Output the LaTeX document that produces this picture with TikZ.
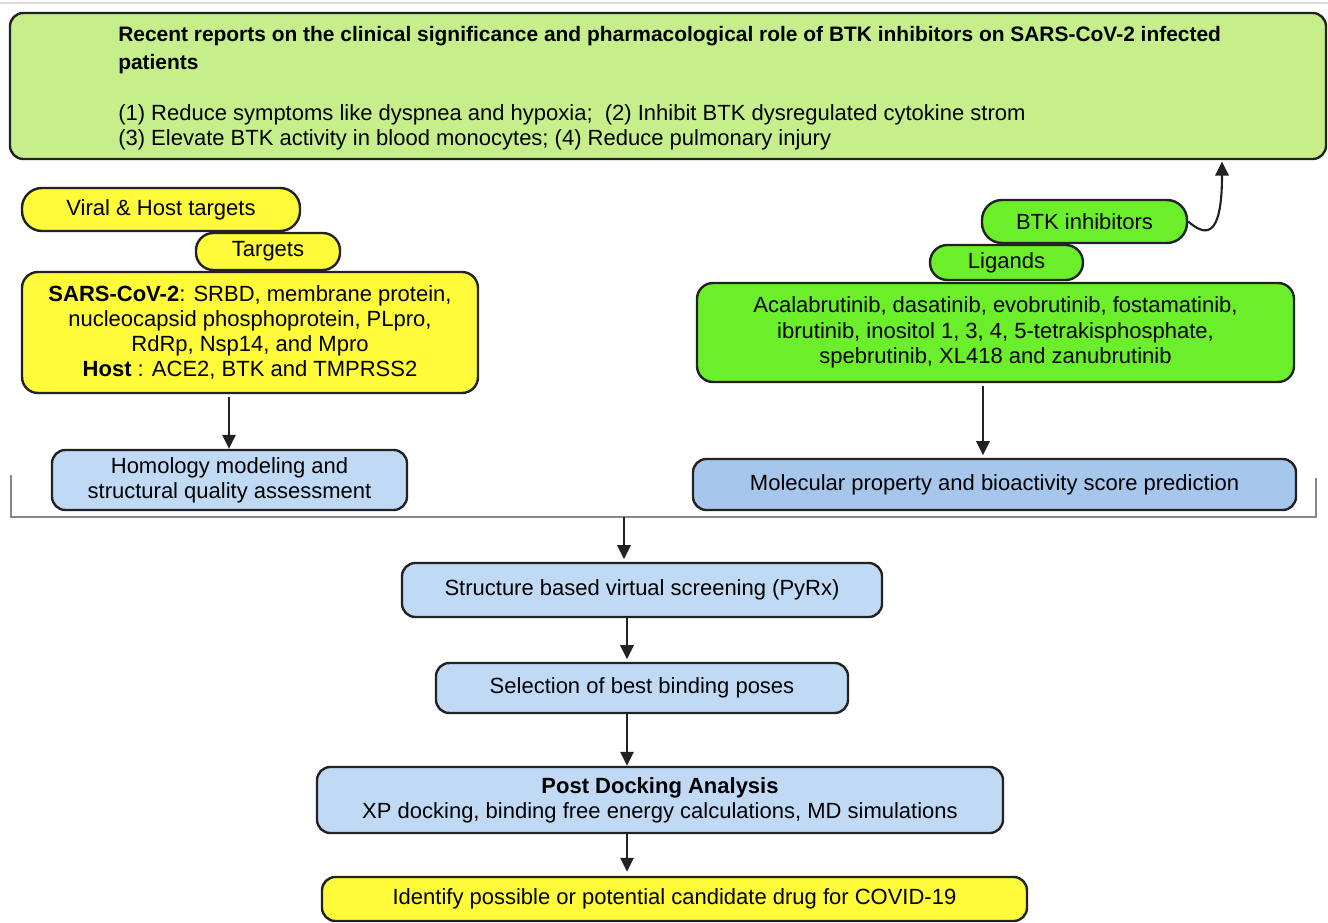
\documentclass[tikz,border=0pt]{standalone}
\usepackage{fontspec}
\setmainfont{Liberation Sans}
\usetikzlibrary{arrows.meta}
\definecolor{topgreen}{HTML}{C6EF8C}
\definecolor{yel}{HTML}{FFFA3A}
\definecolor{brgreen}{HTML}{6BEF2B}
\definecolor{lblue}{HTML}{C0DAF6}
\definecolor{mblue}{HTML}{A7C6EC}
\definecolor{edge}{HTML}{222222}
\definecolor{brk}{HTML}{888888}
\tikzset{
  box/.style={draw=edge, line width=1.8pt, rounded corners=10pt, inner sep=0pt, align=center, font=\fontsize{16.5}{18.9}\selectfont, text=black},
  pill/.style={box, rounded corners=15pt},
  arr/.style={draw=edge, line width=1.6pt, -{Triangle[length=10.5pt,width=10pt]}},
}
\begin{document}
\begin{tikzpicture}[x=0.75pt,y=-0.75pt]
\useasboundingbox (0,0) rectangle (1328,923);
\fill[white] (0,0) rectangle (1328,923);
\draw[black!15, line width=0.8pt] (0,3) -- (1328,3);
% top box
\node[box, fill=topgreen, minimum width=1316*0.75pt, minimum height=146*0.75pt] (top) at (668,86) {};
\node[anchor=north west, align=left, inner sep=0pt, font=\fontsize{16.5}{18.9}\selectfont] (toptext) at (118,26.5)
  {{\fontsize{15.7}{18.9}\selectfont\textbf{Recent reports on the clinical significance and pharmacological role of BTK inhibitors on SARS-CoV-2 infected}}\\[1.5pt]
   {\fontsize{15.7}{18.9}\selectfont\textbf{patients}}\\[19.5pt]
   (1) Reduce symptoms like dyspnea and hypoxia;\ \ (2) Inhibit BTK dysregulated cytokine strom\\
   (3) Elevate BTK activity in blood monocytes; (4) Reduce pulmonary injury};
% left column
\node[pill, fill=yel, minimum width=278*0.75pt, minimum height=43*0.75pt] (viral) at (161,209.5) {Viral \& Host targets};
\node[pill, fill=yel, minimum width=144*0.75pt, minimum height=37*0.75pt, rounded corners=13pt] (targets) at (268,251.5) {Targets};
\node[box, fill=yel, minimum width=456*0.75pt, minimum height=121*0.75pt, rounded corners=12pt] (sars) at (250,332.5)
  {\textbf{SARS-CoV-2}: SRBD, membrane protein,\\ nucleocapsid phosphoprotein, PLpro,\\ RdRp, Nsp14, and Mpro\\ \textbf{Host} : ACE2, BTK and TMPRSS2};
\node[box, fill=lblue, minimum width=355*0.75pt, minimum height=60*0.75pt] (homology) at (229.5,480)
  {Homology modeling and\\ structural quality assessment};
% right column
\node[pill, fill=brgreen, minimum width=205*0.75pt, minimum height=43*0.75pt] (btk) at (1084.5,221.5) {BTK inhibitors};
\node[pill, fill=brgreen, minimum width=153*0.75pt, minimum height=35*0.75pt, rounded corners=13pt] (ligands) at (1006.5,262.5) {Ligands};
\node[box, fill=brgreen, minimum width=597*0.75pt, minimum height=99*0.75pt, rounded corners=12pt] (ligbox) at (995.5,332.5)
  {Acalabrutinib, dasatinib, evobrutinib, fostamatinib,\\ ibrutinib, inositol 1, 3, 4, 5-tetrakisphosphate,\\ spebrutinib, XL418 and zanubrutinib};
\node[box, fill=mblue, minimum width=603*0.75pt, minimum height=51*0.75pt] (molec) at (994.5,484.5)
  {Molecular property and bioactivity score prediction};
% bracket
\coordinate (bl) at (11,475);
\coordinate (br) at (1316,478);
\coordinate (bk) at (624,517);
\draw[brk, line width=1pt] (bl) |- (br |- bk) -- (br);
% central flow
\node[box, fill=lblue, minimum width=480*0.75pt, minimum height=54*0.75pt] (struct) at (642,590)
  {Structure based virtual screening (PyRx)};
\node[box, fill=lblue, minimum width=412*0.75pt, minimum height=50*0.75pt] (select) at (642,688)
  {Selection of best binding poses};
\node[box, fill=lblue, minimum width=686*0.75pt, minimum height=66*0.75pt] (post) at (660,800)
  {\textbf{Post Docking Analysis}\\ XP docking, binding free energy calculations, MD simulations};
\node[box, fill=yel, minimum width=705*0.75pt, minimum height=44*0.75pt] (ident) at (674.5,899)
  {Identify possible or potential candidate drug for COVID-19};
% arrows
\coordinate (ax1) at (229,0);
\coordinate (ax2) at (983,0);
\coordinate (ax3) at (627,0);
\draw[arr] ([yshift=-2pt]sars.south -| ax1) -- (homology.north -| ax1);
\draw[arr] ([yshift=-2pt]ligbox.south -| ax2) -- ([yshift=2pt]molec.north -| ax2);
\draw[arr] (bk) -- ([yshift=2pt]struct.north -| bk);
\draw[arr] (struct.south -| ax3) -- ([yshift=2pt]select.north -| ax3);
\draw[arr] (select.south -| ax3) -- (post.north -| ax3);
\draw[arr] (post.south -| ax3) -- ([yshift=3pt]ident.north -| ax3);
\coordinate (tgt) at (1222,160);
\draw[arr] (btk.east) .. controls (1205,236) and (1222,240) .. ([yshift=-1pt]top.south -| tgt);
\end{tikzpicture}
\end{document}
